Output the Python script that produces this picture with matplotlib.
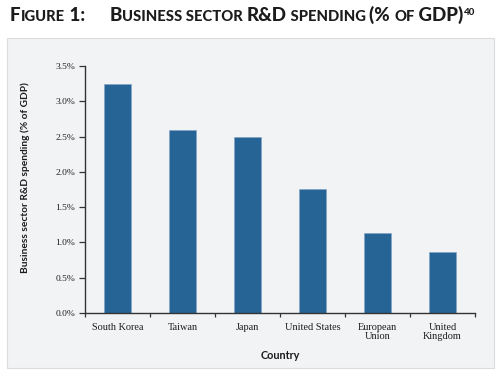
import matplotlib
matplotlib.use('Agg')
import matplotlib.pyplot as plt
import numpy as np
from matplotlib.patches import Rectangle
from matplotlib.ticker import FuncFormatter

# Dati
countries = ['South Korea', 'Taiwan', 'Japan', 'United States', 'European\nUnion', 'United\nKingdom']
spending = [3.25, 2.59, 2.50, 1.76, 1.14, 0.86]

bar_color = '#266496'
panel_color = '#f2f3f5'
dark = '#1c1c1c'

fig = plt.figure(figsize=(5.03, 3.79), dpi=100)
W, H = 503, 379

# Pannello grigio dietro al grafico
fig.patches.append(Rectangle((7 / W, 1 - 368 / H), 487 / W, 330 / H,
                             transform=fig.transFigure, facecolor=panel_color,
                             edgecolor='#dcdcdc', linewidth=0.8, zorder=-5))

ax = fig.add_axes([85 / W, 1 - 313 / H, 390 / W, 247 / H], zorder=2)
ax.set_facecolor('none')

x = np.arange(len(countries))
ax.bar(x, spending, width=0.41, color=bar_color, edgecolor='#7fa3c4', linewidth=0.4, zorder=2)

ax.set_xlim(-0.5, len(countries) - 0.5)
ax.set_ylim(0, 3.5)
ax.set_yticks(np.arange(0, 3.51, 0.5))
ax.yaxis.set_major_formatter(FuncFormatter(lambda v, p: f'{v:.1f}%'))

ax.set_xticks(x)
ax.set_xticklabels(countries, linespacing=1.0)
ax.set_xticks(np.arange(-0.5, len(countries)), minor=True)
ax.tick_params(axis='x', which='major', length=0, pad=7)
ax.tick_params(axis='x', which='minor', length=3, width=0.9, color='#333333', direction='out')
ax.tick_params(axis='y', length=4, width=0.9, color='#333333', pad=3)

for lab in ax.get_xticklabels() + ax.get_yticklabels():
    lab.set_fontfamily('Liberation Serif')
    lab.set_color('#1e1e1e')
ax.tick_params(axis='x', labelsize=7.4)
ax.tick_params(axis='y', labelsize=6.8)

for s in ['top', 'right']:
    ax.spines[s].set_visible(False)
for s in ['left', 'bottom']:
    ax.spines[s].set_color('#333333')
    ax.spines[s].set_linewidth(1.0)

ax.set_ylabel('Business sector R&D spending (% of GDP)', fontfamily='Lato',
              fontweight='bold', fontsize=7.3, color=dark)
ax.yaxis.set_label_coords(-0.141, 0.55)
ax.set_xlabel('Country', fontfamily='Lato', fontweight='bold', fontsize=7.8, color=dark)
ax.xaxis.set_label_coords(0.5, -0.148)

# Titolo in maiuscoletto simulato
big, small = 13.5, 10.6
base_y = 1 - 21 / H
title_kw = dict(fontfamily='Lato', fontweight='black', color=dark)


def chain(first, x0, pieces):
    prev = fig.text(x0, base_y, first[0], fontsize=first[1], va='baseline', **title_kw)
    for txt, size in pieces:
        prev = ax.annotate(txt, xy=(1, base_y), xycoords=(prev, 'figure fraction'),
                           fontsize=size, va='baseline', ha='left',
                           annotation_clip=False, **title_kw)
    return prev


chain(('F', big), 10 / W, [('IGURE', small), ('\u00a01:', big)])
last = chain(('B', big), 110 / W,
             [('USINESS\u00a0SECTOR\u00a0', small), ('R&D', big), ('\u00a0SPENDING\u00a0', small),
              ('(%\u00a0', big), ('OF', small), ('\u00a0GDP)', big)])
ax.annotate('40', xy=(1, base_y + 6 / H), xycoords=(last, 'figure fraction'),
            fontsize=7, va='baseline', ha='left', annotation_clip=False, **title_kw)

plt.savefig('out.png', dpi=100)
